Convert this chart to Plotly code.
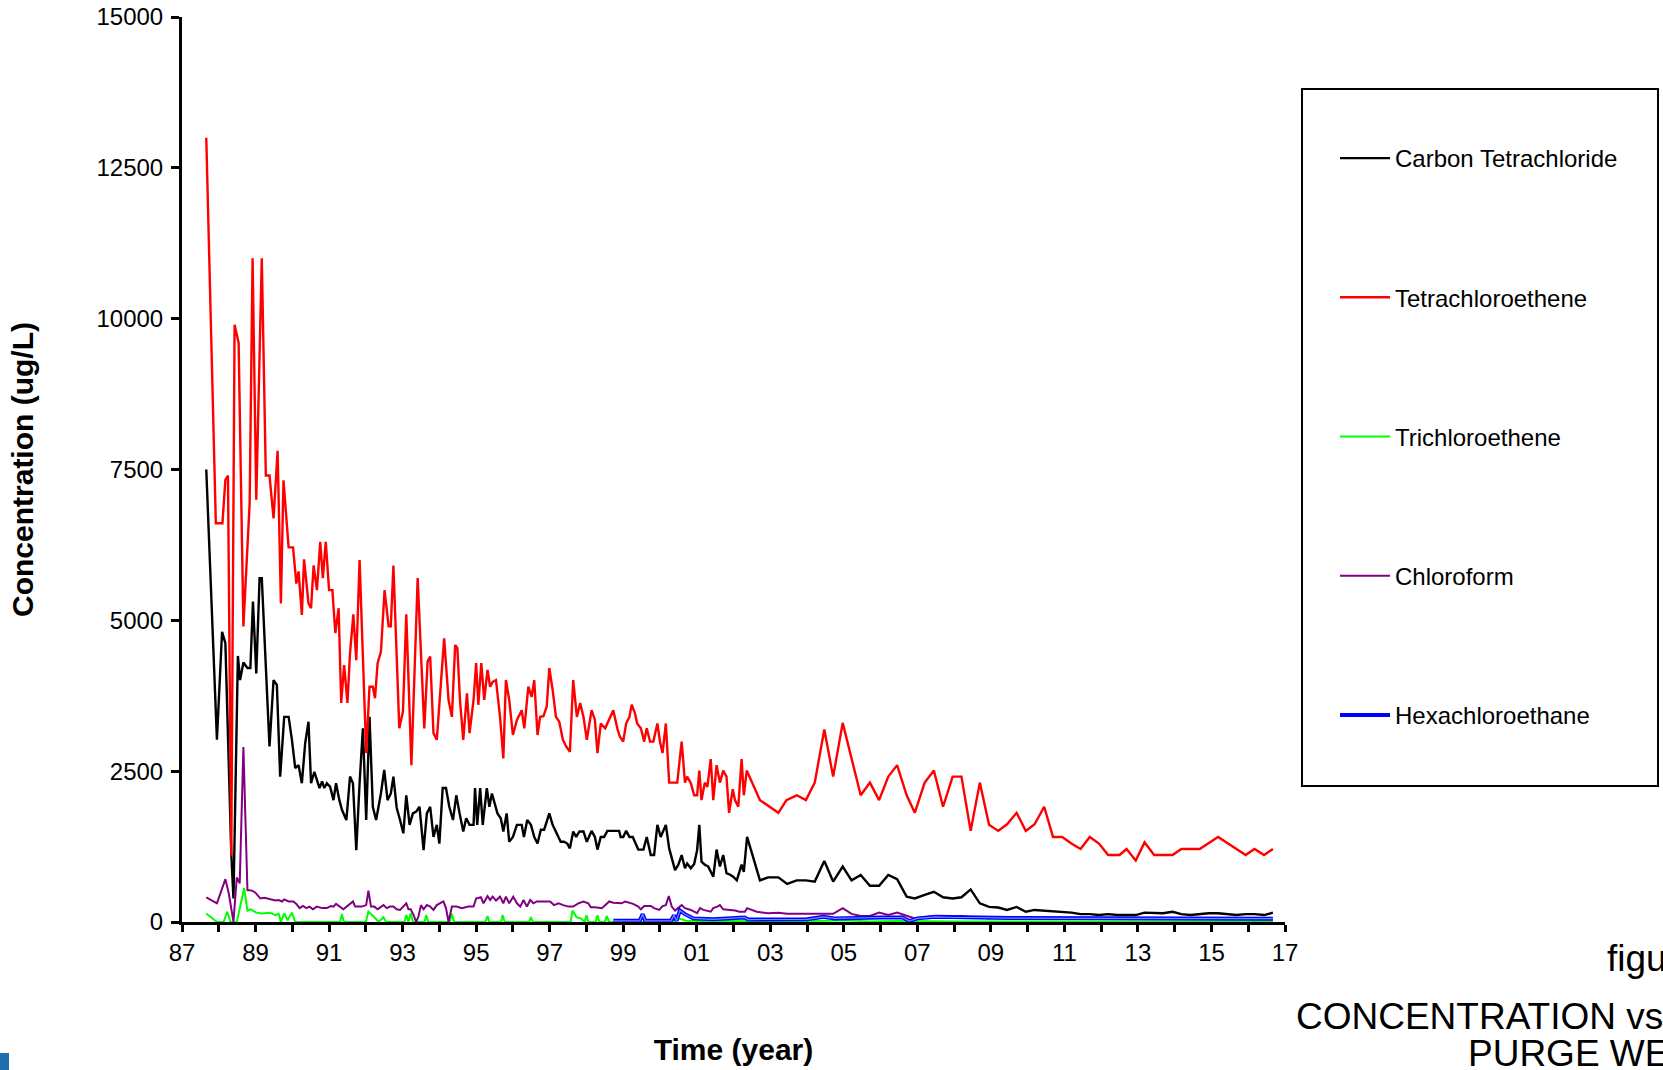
import plotly.graph_objects as go

# ---------------- data (decimal year, ug/L) ----------------
ct_year = [1987.66, 1987.95, 1988.09, 1988.18, 1988.34, 1988.40, 1988.52, 1988.58, 1988.67, 1988.78, 1988.86, 1988.93, 1989.02, 1989.11, 1989.17, 1989.38, 1989.49, 1989.58, 1989.67, 1989.78, 1989.90, 1989.99, 1990.08, 1990.17, 1990.26, 1990.35, 1990.44, 1990.51, 1990.60, 1990.74, 1990.81, 1990.87, 1990.94, 1991.03, 1991.12, 1991.19, 1991.28, 1991.35, 1991.47, 1991.57, 1991.65, 1991.74, 1991.83, 1991.92, 1992.01, 1992.10, 1992.19, 1992.28, 1992.41, 1992.50, 1992.59, 1992.68, 1992.75, 1992.84, 1992.93, 1993.02, 1993.10, 1993.19, 1993.28, 1993.37, 1993.46, 1993.57, 1993.66, 1993.75, 1993.84, 1993.93, 1994.00, 1994.09, 1994.18, 1994.27, 1994.37, 1994.46, 1994.55, 1994.65, 1994.73, 1994.82, 1994.93, 1994.97, 1995.03, 1995.11, 1995.18, 1995.29, 1995.36, 1995.43, 1995.58, 1995.67, 1995.74, 1995.83, 1995.90, 1996.00, 1996.11, 1996.24, 1996.30, 1996.39, 1996.49, 1996.58, 1996.67, 1996.76, 1996.85, 1996.99, 1997.08, 1997.19, 1997.30, 1997.39, 1997.48, 1997.55, 1997.64, 1997.72, 1997.81, 1997.92, 1998.01, 1998.14, 1998.23, 1998.30, 1998.39, 1998.48, 1998.57, 1998.89, 1998.93, 1999.00, 1999.08, 1999.17, 1999.26, 1999.41, 1999.55, 1999.64, 1999.75, 1999.84, 1999.93, 2000.02, 2000.16, 2000.25, 2000.41, 2000.50, 2000.59, 2000.68, 2000.74, 2000.84, 2000.93, 2001.01, 2001.07, 2001.13, 2001.22, 2001.31, 2001.45, 2001.54, 2001.63, 2001.72, 2001.81, 2001.92, 2001.99, 2002.09, 2002.22, 2002.28, 2002.37, 2002.72, 2002.94, 2003.22, 2003.46, 2003.72, 2003.97, 2004.21, 2004.47, 2004.71, 2004.97, 2005.21, 2005.46, 2005.71, 2005.96, 2006.21, 2006.45, 2006.71, 2006.93, 2007.20, 2007.45, 2007.70, 2007.96, 2008.20, 2008.45, 2008.70, 2008.95, 2009.20, 2009.44, 2009.70, 2009.95, 2010.19, 2010.45, 2010.69, 2010.94, 2011.19, 2011.44, 2011.69, 2011.94, 2012.19, 2012.44, 2012.69, 2012.94, 2013.18, 2013.44, 2013.68, 2013.94, 2014.18, 2014.43, 2014.68, 2014.93, 2015.18, 2015.43, 2015.68, 2015.93, 2016.17, 2016.43, 2016.67]
ct_val = [7500, 3020, 4810, 4620, 1140, 390, 4410, 4010, 4300, 4210, 4210, 5310, 4120, 5700, 5700, 2910, 4010, 3930, 2410, 3400, 3400, 3020, 2550, 2600, 2300, 2960, 3320, 2300, 2490, 2220, 2330, 2220, 2300, 2240, 2020, 2300, 2020, 1860, 1690, 2410, 2300, 1190, 2300, 3210, 1690, 3400, 1910, 1690, 2130, 2520, 2020, 2130, 2410, 1890, 1690, 1470, 2100, 1610, 1800, 1830, 1910, 1190, 1800, 1910, 1410, 1610, 1300, 2220, 2220, 1910, 1690, 2100, 1800, 1500, 1720, 1610, 1610, 2220, 1610, 2220, 1610, 2220, 1910, 2130, 1800, 1720, 1500, 1800, 1330, 1410, 1610, 1610, 1410, 1690, 1610, 1410, 1300, 1530, 1530, 1800, 1610, 1470, 1330, 1330, 1300, 1220, 1500, 1410, 1500, 1500, 1330, 1510, 1410, 1200, 1410, 1410, 1510, 1510, 1410, 1410, 1510, 1410, 1410, 1200, 1200, 1410, 1110, 1110, 1610, 1410, 1610, 1220, 860, 950, 1110, 890, 970, 890, 960, 1190, 1610, 1000, 950, 920, 750, 1200, 920, 1110, 810, 780, 750, 690, 950, 830, 1410, 690, 740, 740, 630, 690, 690, 670, 1010, 670, 920, 690, 780, 600, 600, 780, 710, 420, 390, 450, 500, 410, 390, 410, 540, 310, 250, 240, 200, 250, 170, 200, 190, 170, 170, 155, 130, 130, 115, 130, 115, 115, 115, 155, 155, 145, 170, 130, 115, 130, 145, 145, 130, 115, 130, 130, 115, 155]

pce_year = [1987.66, 1987.92, 1988.10, 1988.18, 1988.25, 1988.34, 1988.43, 1988.54, 1988.67, 1988.84, 1988.92, 1989.02, 1989.17, 1989.28, 1989.38, 1989.49, 1989.60, 1989.69, 1989.76, 1989.90, 1990.02, 1990.11, 1990.17, 1990.26, 1990.32, 1990.44, 1990.51, 1990.58, 1990.67, 1990.76, 1990.83, 1990.91, 1991.00, 1991.09, 1991.17, 1991.26, 1991.33, 1991.41, 1991.50, 1991.57, 1991.66, 1991.74, 1991.83, 1992.01, 1992.10, 1992.19, 1992.25, 1992.32, 1992.41, 1992.51, 1992.62, 1992.68, 1992.75, 1992.91, 1993.01, 1993.10, 1993.24, 1993.41, 1993.59, 1993.68, 1993.75, 1993.84, 1993.93, 1994.00, 1994.13, 1994.25, 1994.34, 1994.43, 1994.49, 1994.56, 1994.65, 1994.75, 1994.82, 1994.93, 1995.00, 1995.06, 1995.14, 1995.22, 1995.31, 1995.38, 1995.45, 1995.54, 1995.65, 1995.74, 1995.81, 1995.90, 1996.00, 1996.11, 1996.24, 1996.31, 1996.42, 1996.51, 1996.58, 1996.67, 1996.74, 1996.83, 1996.92, 1996.99, 1997.08, 1997.17, 1997.26, 1997.36, 1997.45, 1997.55, 1997.64, 1997.74, 1997.83, 1997.92, 1998.01, 1998.14, 1998.23, 1998.30, 1998.39, 1998.51, 1998.73, 1998.84, 1998.91, 1999.00, 1999.08, 1999.17, 1999.23, 1999.32, 1999.38, 1999.48, 1999.57, 1999.64, 1999.73, 1999.82, 1999.93, 2000.00, 2000.07, 2000.16, 2000.25, 2000.47, 2000.59, 2000.68, 2000.74, 2000.84, 2000.93, 2001.01, 2001.07, 2001.13, 2001.22, 2001.29, 2001.38, 2001.45, 2001.54, 2001.63, 2001.72, 2001.81, 2001.88, 2001.98, 2002.04, 2002.13, 2002.22, 2002.28, 2002.36, 2002.72, 2003.22, 2003.44, 2003.72, 2003.97, 2004.21, 2004.47, 2004.71, 2004.97, 2005.46, 2005.71, 2005.96, 2006.21, 2006.45, 2006.71, 2006.93, 2007.20, 2007.45, 2007.70, 2007.96, 2008.20, 2008.45, 2008.70, 2008.95, 2009.20, 2009.44, 2009.70, 2009.95, 2010.19, 2010.45, 2010.69, 2010.94, 2011.19, 2011.44, 2011.69, 2011.94, 2012.19, 2012.50, 2012.69, 2012.94, 2013.18, 2013.44, 2013.94, 2014.18, 2014.68, 2015.18, 2015.68, 2015.93, 2016.17, 2016.43, 2016.67]
pce_val = [13000, 6610, 6610, 7330, 7400, 1100, 9900, 9600, 4900, 6940, 11000, 7000, 11000, 7400, 7400, 6690, 7810, 5280, 7320, 6210, 6210, 5610, 5810, 5090, 6010, 5280, 5200, 5910, 5500, 6300, 5700, 6300, 5500, 5500, 4790, 5200, 3630, 4260, 3630, 4450, 5100, 4340, 6000, 2800, 3900, 3900, 3710, 4290, 4480, 5500, 4900, 4900, 5910, 3210, 3490, 5100, 2600, 5700, 3210, 4320, 4400, 3130, 3020, 3570, 4700, 3680, 3400, 4590, 4540, 3680, 3020, 3790, 3130, 3680, 4290, 3600, 4290, 3680, 4180, 3900, 3980, 4010, 3400, 2710, 4010, 3680, 3100, 3350, 3510, 3210, 3900, 3730, 4010, 3100, 3400, 3410, 3570, 4210, 3850, 3400, 3320, 3020, 2910, 2820, 4010, 3400, 3630, 3400, 3020, 3510, 3350, 2800, 3290, 3210, 3510, 3210, 3070, 2990, 3290, 3400, 3600, 3460, 3290, 3210, 2990, 3210, 2990, 2990, 3290, 2990, 2800, 3290, 2310, 2310, 2990, 2310, 2410, 2300, 2100, 2100, 2510, 2020, 2310, 2240, 2700, 2020, 2600, 2310, 2510, 2410, 1810, 2200, 2020, 1910, 2700, 2100, 2510, 2020, 1810, 2020, 2100, 2020, 2310, 3190, 2410, 3300, 2100, 2310, 2020, 2410, 2600, 2100, 1810, 2310, 2510, 1910, 2410, 2410, 1510, 2310, 1610, 1510, 1620, 1810, 1510, 1620, 1910, 1410, 1410, 1300, 1210, 1410, 1300, 1110, 1110, 1210, 1020, 1320, 1110, 1110, 1210, 1210, 1410, 1210, 1110, 1210, 1110, 1210]

tce_year = [1987.66, 1987.95, 1988.13, 1988.23, 1988.32, 1988.49, 1988.69, 1988.78, 1988.87, 1989.02, 1989.17, 1989.40, 1989.54, 1989.63, 1989.69, 1989.78, 1989.87, 1989.99, 1990.08, 1991.30, 1991.35, 1991.40, 1992.00, 1992.07, 1992.21, 1992.35, 1992.48, 1992.55, 1993.05, 1993.10, 1993.16, 1993.22, 1993.28, 1993.60, 1993.64, 1993.70, 1994.28, 1994.34, 1994.40, 1995.25, 1995.31, 1995.36, 1995.68, 1995.72, 1995.78, 1996.44, 1996.49, 1996.54, 1997.57, 1997.62, 1997.73, 1997.85, 1997.95, 1998.00, 1998.05, 1998.25, 1998.30, 1998.35, 1998.50, 1998.55, 1998.62, 2000.30, 2000.50, 2000.70, 2001.50, 2003.00, 2004.50, 2005.00, 2005.70, 2006.50, 2008.00, 2010.00, 2012.00, 2014.00, 2016.67]
tce_val = [140, 0, 0, 170, 0, 0, 560, 190, 210, 155, 140, 155, 115, 135, 0, 145, 30, 155, 0, 0, 135, 0, 0, 170, 90, 0, 80, 0, 0, 115, 0, 145, 0, 0, 115, 0, 0, 135, 0, 0, 100, 0, 0, 115, 0, 0, 80, 0, 0, 190, 80, 60, 0, 110, 0, 0, 110, 0, 0, 100, 0, 0, 60, 20, 15, 10, 20, 30, 10, 15, 10, 5, 5, 5, 5]

cf_year = [1987.66, 1987.95, 1988.18, 1988.27, 1988.40, 1988.49, 1988.57, 1988.67, 1988.78, 1988.90, 1988.99, 1989.05, 1989.13, 1989.24, 1989.35, 1989.45, 1989.54, 1989.63, 1989.72, 1989.78, 1989.90, 1990.03, 1990.11, 1990.20, 1990.29, 1990.38, 1990.47, 1990.56, 1990.67, 1990.81, 1990.94, 1991.05, 1991.12, 1991.19, 1991.28, 1991.39, 1991.65, 1991.71, 1991.80, 1991.89, 1992.01, 1992.07, 1992.14, 1992.23, 1992.32, 1992.41, 1992.48, 1992.57, 1992.66, 1992.75, 1992.84, 1992.93, 1993.10, 1993.16, 1993.22, 1993.30, 1993.37, 1993.43, 1993.50, 1993.57, 1993.66, 1993.75, 1993.84, 1993.93, 1994.11, 1994.18, 1994.25, 1994.34, 1994.47, 1994.61, 1994.79, 1994.93, 1995.00, 1995.13, 1995.20, 1995.31, 1995.38, 1995.45, 1995.54, 1995.65, 1995.74, 1995.81, 1995.90, 1996.01, 1996.11, 1996.20, 1996.29, 1996.38, 1996.47, 1996.56, 1996.65, 1996.83, 1997.01, 1997.12, 1997.24, 1997.37, 1997.51, 1997.64, 1997.78, 1997.92, 1998.05, 1998.12, 1998.23, 1998.42, 1998.51, 1998.62, 1998.73, 1998.96, 1999.05, 1999.27, 1999.41, 1999.48, 1999.57, 1999.75, 1999.84, 1999.98, 2000.07, 2000.16, 2000.24, 2000.32, 2000.41, 2000.59, 2000.68, 2000.84, 2000.93, 2001.01, 2001.09, 2001.18, 2001.38, 2001.45, 2001.56, 2001.63, 2001.72, 2001.88, 2002.04, 2002.16, 2002.31, 2002.37, 2002.63, 2002.94, 2003.22, 2003.46, 2003.72, 2004.21, 2004.47, 2004.71, 2004.97, 2005.21, 2005.46, 2005.71, 2005.96, 2006.21, 2006.45, 2006.71, 2006.93, 2007.20, 2007.45, 2007.70, 2007.96, 2008.20, 2008.45, 2008.70, 2008.95, 2009.20, 2009.70, 2010.19, 2010.94, 2011.69, 2012.44, 2013.18, 2013.94, 2014.68, 2015.43, 2016.17, 2016.67]
cf_val = [410, 310, 710, 480, 5, 740, 640, 2900, 530, 520, 490, 450, 390, 400, 380, 365, 355, 365, 340, 375, 340, 340, 300, 230, 265, 230, 255, 210, 255, 230, 230, 265, 255, 300, 255, 210, 340, 255, 255, 255, 280, 520, 255, 255, 210, 255, 280, 230, 255, 255, 210, 200, 310, 210, 210, 115, 0, 90, 280, 210, 280, 255, 200, 280, 340, 230, 0, 255, 255, 230, 255, 255, 390, 410, 310, 430, 365, 420, 355, 420, 310, 420, 310, 420, 310, 255, 365, 255, 365, 310, 340, 340, 340, 280, 310, 280, 255, 255, 310, 340, 310, 245, 245, 230, 280, 340, 320, 310, 340, 300, 255, 210, 265, 265, 230, 200, 265, 280, 430, 255, 190, 280, 230, 200, 170, 145, 230, 200, 170, 230, 255, 280, 210, 200, 190, 170, 170, 230, 170, 145, 155, 135, 135, 145, 135, 135, 230, 135, 100, 100, 155, 115, 155, 100, 60, 80, 100, 90, 80, 100, 80, 80, 60, 80, 70, 60, 55, 50, 50, 45, 45, 40, 45, 40, 40]

hca_year = [1998.73, 1999.45, 1999.53, 1999.60, 2000.30, 2000.38, 2000.45, 2000.54, 2000.68, 2000.90, 2001.45, 2001.81, 2002.30, 2002.40, 2003.30, 2004.00, 2004.45, 2004.75, 2006.00, 2006.60, 2006.78, 2007.00, 2007.50, 2008.00, 2008.70, 2009.50, 2011.00, 2013.00, 2015.00, 2016.67]
hca_val = [20, 20, 130, 20, 20, 110, 20, 190, 130, 60, 45, 60, 75, 40, 40, 45, 85, 60, 75, 75, 15, 60, 85, 75, 75, 65, 60, 55, 55, 55]

year_ticks = list(range(1987, 2018))
year_labels = ["87", "", "89", "", "91", "", "93", "", "95", "", "97", "", "99", "", "01", "",
               "03", "", "05", "", "07", "", "09", "", "11", "", "13", "", "15", "", "17"]
conc_ticks = [0, 2500, 5000, 7500, 10000, 12500, 15000]
conc_labels = ["0", "2500", "5000", "7500", "10000", "12500", "15000"]

for a, b in [(ct_year, ct_val), (pce_year, pce_val), (tce_year, tce_val), (cf_year, cf_val), (hca_year, hca_val)]:
    assert len(a) == len(b), (len(a), len(b))

# ---------------- layout helpers ----------------
W, H = 1663, 1070
L, R, T, B = 182, 378, 17, 148
PW, PH = W - L - R, H - T - B
FONT = "Liberation Sans, Arial, sans-serif"


def fx(px):
    return (px - L) / PW


def fy(py):
    return (H - B - py) / PH


fig = go.Figure()
fig.add_trace(go.Scatter(x=ct_year, y=ct_val, mode="lines", name="Carbon Tetrachloride",
                         line=dict(color="#000000", width=2.4), legendgroup="g1"))
fig.add_trace(go.Scatter(x=pce_year, y=pce_val, mode="lines", name="Tetrachloroethene",
                         line=dict(color="#ff0000", width=2.4), legendgroup="g2"))
fig.add_trace(go.Scatter(x=tce_year, y=tce_val, mode="lines", name="Trichloroethene",
                         line=dict(color="#00ff00", width=2.0), legendgroup="g3"))
fig.add_trace(go.Scatter(x=cf_year, y=cf_val, mode="lines", name="Chloroform",
                         line=dict(color="#800080", width=2.0), legendgroup="g4"))
fig.add_trace(go.Scatter(x=hca_year, y=hca_val, mode="lines", name="Hexachloroethane",
                         line=dict(color="#0000ff", width=4), legendgroup="g5"))
fig.add_trace(go.Scatter(x=hca_year, y=hca_val, mode="lines", name="Hexachloroethane",
                         line=dict(color="#6f8cff", width=1.2), legendgroup="g5", showlegend=False))

fig.update_layout(
    width=W, height=H,
    margin=dict(l=L, r=R, t=T, b=B, pad=0, autoexpand=False),
    paper_bgcolor="white", plot_bgcolor="white",
    font=dict(family=FONT, color="black", size=24),
    showlegend=True,
    legend=dict(x=fx(1335), y=fy(136), xanchor="left", yanchor="top",
                bgcolor="rgba(0,0,0,0)", borderwidth=0,
                font=dict(family=FONT, size=24, color="black"),
                traceorder="grouped", tracegroupgap=105, itemwidth=50),
    xaxis=dict(range=[1987, 2017], tickmode="array", tickvals=year_ticks, ticktext=year_labels,
               ticks="outside", ticklen=7, tickwidth=2.5, tickcolor="black",
               showline=True, linecolor="black", linewidth=3, showgrid=False, zeroline=False,
               tickfont=dict(size=24, family=FONT, color="black"), layer="below traces",
               title=dict(text="Time (year)", standoff=75,
                          font=dict(size=30, family=FONT, color="black", weight="bold"))),
    yaxis=dict(range=[0, 15000], tickmode="array", tickvals=conc_ticks, ticktext=conc_labels,
               ticks="outside", ticklen=8, tickwidth=2.5, tickcolor="black", ticklabelstandoff=3,
               showline=True, linecolor="black", linewidth=3, showgrid=False, zeroline=False,
               tickfont=dict(size=24, family=FONT, color="black"),
               title=dict(text="Concentration (ug/L)", standoff=54,
                          font=dict(size=30, family=FONT, color="black", weight="bold"))),
    yaxis2=dict(range=[0, 15000], overlaying="y", anchor="x", side="left",
                tickmode="array", tickvals=conc_ticks, ticks="inside", ticklen=8, tickwidth=2.5,
                tickcolor="black", showticklabels=False, showline=False, showgrid=False,
                zeroline=False),
    shapes=[
        dict(type="rect", xref="paper", yref="paper", x0=fx(1302), x1=fx(1658), y0=fy(786), y1=fy(89),
             line=dict(color="black", width=2), fillcolor="rgba(0,0,0,0)"),
        dict(type="rect", xref="paper", yref="paper", x0=fx(0), x1=fx(9), y0=fy(1070), y1=fy(1053),
             line=dict(width=0), fillcolor="#1f6fb0"),
    ],
    annotations=[
        dict(text="figure", xref="paper", yref="paper", x=fx(1605), y=fy(958),
             xanchor="left", yanchor="middle", showarrow=False, font=dict(size=37, family=FONT)),
        dict(text="CONCENTRATION vs TIME", xref="paper", yref="paper", x=fx(1294), y=fy(1016),
             xanchor="left", yanchor="middle", showarrow=False, font=dict(size=37, family=FONT)),
        dict(text="PURGE WELL", xref="paper", yref="paper", x=fx(1466), y=fy(1053),
             xanchor="left", yanchor="middle", showarrow=False, font=dict(size=37, family=FONT)),
    ],
)

fig.write_html("out.html", config={"displayModeBar": False},
               post_script="document.body.style.margin='0';document.body.style.overflow='hidden';")
